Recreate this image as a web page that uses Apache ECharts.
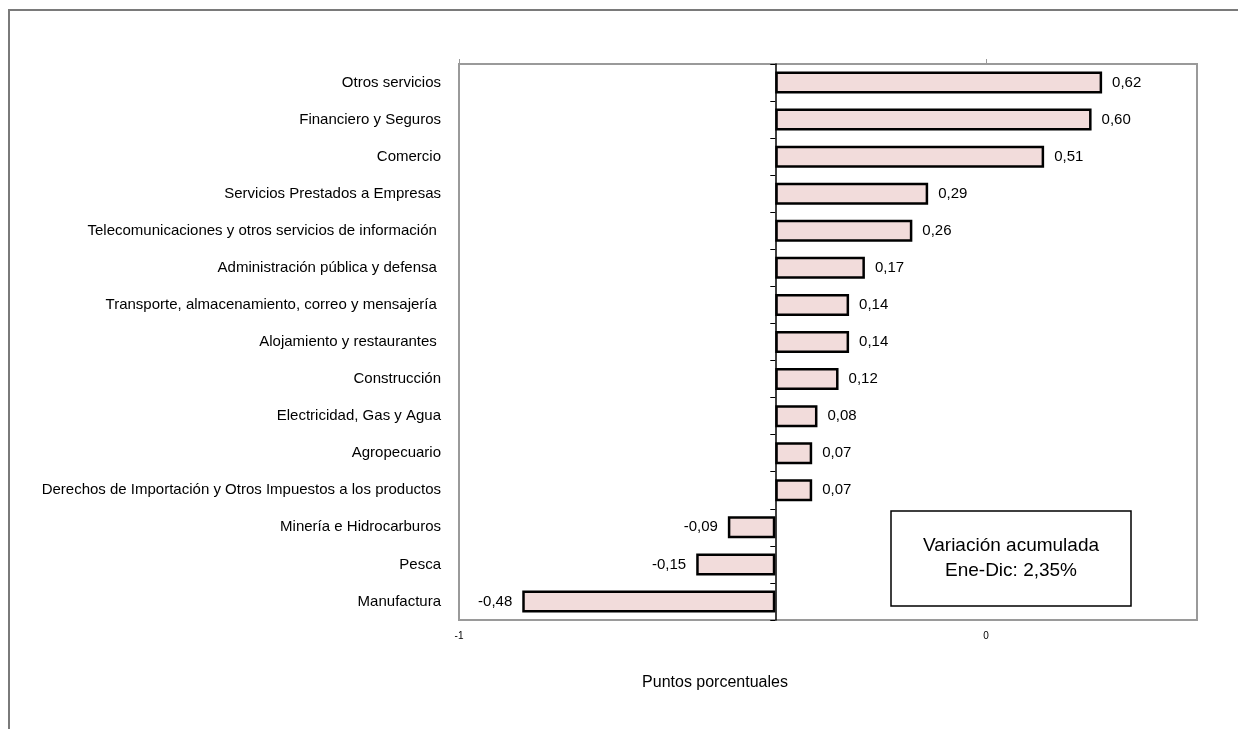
<!DOCTYPE html>
<html>
<head>
<meta charset="utf-8">
<script src="https://cdn.jsdelivr.net/npm/echarts@6/dist/echarts.min.js"></script>
<style>
  html, body { margin: 0; padding: 0; background: #fff; }
  #grafico { width: 1238px; height: 729px; }
</style>
</head>
<body>
<div id="grafico"></div>
<script>
const categorias = [
    'Otros servicios',
    'Financiero y Seguros',
    'Comercio',
    'Servicios Prestados a Empresas',
    'Telecomunicaciones y otros servicios de información ',
    'Administración pública y defensa ',
    'Transporte, almacenamiento, correo y mensajería ',
    'Alojamiento y restaurantes ',
    'Construcción',
    'Electricidad, Gas y Agua',
    'Agropecuario',
    'Derechos de Importación y Otros Impuestos a los productos',
    'Minería e Hidrocarburos',
    'Pesca',
    'Manufactura'
];
const valores = [0.62, 0.60, 0.51, 0.29, 0.26, 0.17, 0.14, 0.14, 0.12, 0.08, 0.07, 0.07, -0.09, -0.15, -0.48];
const etiquetasEje = ['-1', '0'];
const nota = ['Variación acumulada', 'Ene-Dic: 2,35%'];

const fuente = '"Liberation Sans Narrow", "Arial Narrow", "Liberation Sans", sans-serif';

const chartDom = document.getElementById('grafico');
const myChart = echarts.init(chartDom);

const option = {
    backgroundColor: '#fff',
    animation: false,
    textStyle: { fontFamily: fuente },
    grid: {
        left: 459,
        top: 64,
        width: 738,
        height: 556,
        show: true,
        borderColor: '#9a9a9a',
        borderWidth: 2,
        backgroundColor: 'transparent'
    },
    xAxis: [
        {
            // eje principal de las barras
            type: 'value',
            min: -0.6,
            max: 0.8,
            axisLine: { show: false },
            axisTick: { show: false },
            axisLabel: { show: false },
            splitLine: { show: false }
        },
        {
            // eje secundario con las etiquetas -1 y 0
            type: 'value',
            position: 'bottom',
            min: -1,
            max: 0.4,
            interval: 1,
            axisLine: { show: false },
            axisTick: { show: false },
            splitLine: { show: false },
            axisLabel: {
                margin: 11,
                fontSize: 10,
                color: '#000',
                fontFamily: 'Liberation Sans, sans-serif',
                formatter: (v) => (v === -1 ? etiquetasEje[0] : (v === 0 ? etiquetasEje[1] : ''))
            }
        },
        {
            type: 'value',
            position: 'top',
            min: -1,
            max: 0.4,
            interval: 1,
            axisLine: { show: false },
            axisTick: { show: true, length: 5, customValues: [-1, 0], lineStyle: { color: '#9a9a9a', width: 1 } },
            axisLabel: { show: false },
            splitLine: { show: false }
        }
    ],
    yAxis: [
        {
            type: 'category',
            data: categorias,
            inverse: true,
            position: 'left',
            axisLine: { show: false },
            axisTick: { show: false },
            axisLabel: {
                margin: 18,
                fontSize: 15,
                color: '#000',
                fontFamily: fuente
            }
        },
        {
            type: 'category',
            data: categorias,
            inverse: true,
            position: 'left',
            axisLine: {
                show: true,
                onZero: true,
                onZeroAxisIndex: 0,
                lineStyle: { color: '#000', width: 1.5 }
            },
            axisTick: { show: true, length: 5, lineStyle: { color: '#000', width: 1 } },
            axisLabel: { show: false }
        }
    ],
    series: [
        {
            type: 'bar',
            xAxisIndex: 0,
            yAxisIndex: 0,
            // etiquetas negativas a la izquierda de la barra
            data: valores.map((v) => ({
                value: v,
                label: { position: v < 0 ? 'left' : 'right' }
            })),
            barWidth: 22,
            itemStyle: {
                color: '#F2DCDB',
                borderColor: '#000',
                borderWidth: 2.5
            },
            label: {
                show: true,
                distance: 10,
                fontSize: 15,
                color: '#000',
                fontFamily: fuente,
                formatter: (p) => p.value.toFixed(2).replace('.', ',')
            }
        }
    ],
    graphic: [
        {
            type: 'rect',
            shape: { x: 9, y: 10, width: 1300, height: 800 },
            style: { fill: 'none', stroke: '#7a7a7a', lineWidth: 2 },
            silent: true
        },
        {
            type: 'rect',
            shape: { x: 891, y: 511, width: 240, height: 95 },
            style: { fill: '#fff', stroke: '#000', lineWidth: 1.5 },
            z: 100
        },
        {
            type: 'text',
            x: 1011,
            y: 558,
            z: 101,
            style: {
                text: nota.join('\n'),
                font: '19px ' + fuente,
                fill: '#000',
                align: 'center',
                verticalAlign: 'middle',
                lineHeight: 25
            }
        },
        {
            type: 'text',
            x: 715,
            y: 683,
            style: {
                text: 'Puntos porcentuales',
                font: '16px ' + fuente,
                fill: '#000',
                align: 'center',
                verticalAlign: 'middle'
            }
        }
    ]
};

myChart.setOption(option);
</script>
</body>
</html>
